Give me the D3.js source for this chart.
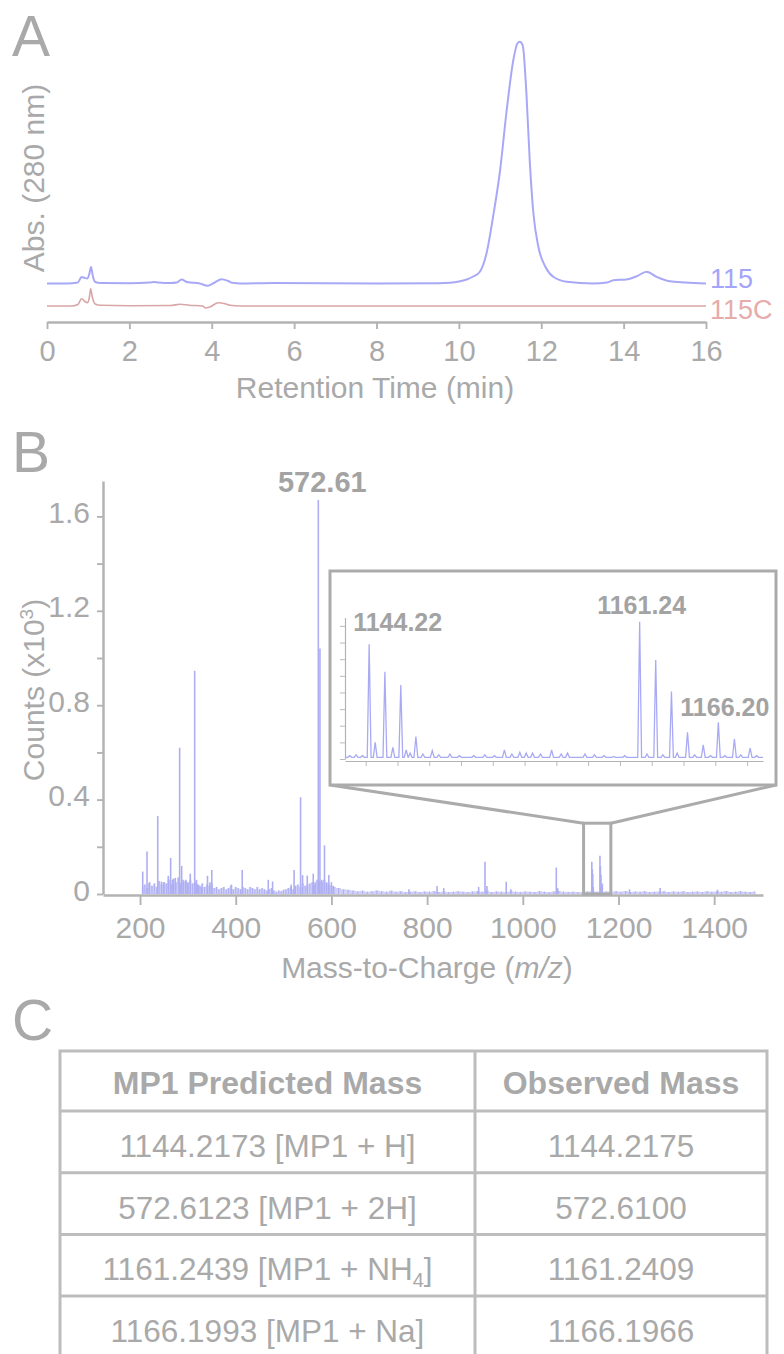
<!DOCTYPE html>
<html>
<head>
<meta charset="utf-8">
<script src="https://cdn.jsdelivr.net/npm/d3@7"></script>
<style>
  body { margin: 0; background: #fff; }
  text { font-family: "Liberation Sans", Arial, sans-serif; }
</style>
</head>
<body>
<div id="vis"></div>
<script>
const WIDTH = 784;
const HEIGHT = 1354;
const FONT = '"Liberation Sans", Arial, sans-serif';
const GREY = '#b3b3b3';
const TEXT = '#a9a9a9';
const BLUE = '#a8a9f6';
const RED = '#d8a6a6';

// ---- panel A: chromatograms, [time (min), abs (arb.)]
const trace115 = [
  [0, 0], [0.5, 0], [0.75, 1], [0.84, 6.6], [0.92, 5.5], [0.98, 5], [1.03, 10], [1.07, 16.6],
  [1.11, 8], [1.17, 1.5], [1.3, 0.5], [2.0, 0.3], [2.5, 1], [2.6, 1.5], [2.7, 1], [3.0, 0.5],
  [3.15, 1], [3.27, 4], [3.4, 1.5], [3.71, 0], [3.9, -2.3], [4.05, 0.5], [4.24, 4.3], [4.4, 2.5],
  [4.5, 0.7], [4.7, 0], [5.5, 0.5], [8, 0], [9.5, 0.3], [9.78, 0.8], [10.0, 2], [10.19, 4],
  [10.35, 7], [10.51, 11.7], [10.67, 30], [10.83, 66.7], [11.0, 113], [11.16, 173], [11.32, 223],
  [11.42, 240], [11.48, 241.7], [11.55, 238], [11.64, 190], [11.72, 123], [11.81, 70], [11.93, 36.7],
  [12.1, 16.7], [12.29, 6.7], [12.62, 1.7], [13.26, 0], [13.6, 1], [13.75, 3.3], [14.07, 4],
  [14.32, 7.3], [14.56, 11.7], [14.8, 6.7], [15.12, 2.3], [15.5, 1], [16, 0]
];
const trace115C = [
  [0, 0], [0.6, 0], [0.75, 1.5], [0.84, 7.3], [0.92, 4.5], [0.98, 3.3], [1.03, 9], [1.06, 17.3],
  [1.1, 9], [1.17, 2], [1.3, 0.7], [2.0, 0.3], [3.0, 0.5], [3.23, 1.7], [3.45, 0.8], [3.78, 0],
  [3.85, -2], [3.95, -1], [4.16, 3.3], [4.3, 2.5], [4.44, 0.7], [4.7, 0], [16, 0]
];
const timeTicks = [0, 2, 4, 6, 8, 10, 12, 14, 16];
const OFFSET_115 = 22.5;

// ---- panel B: mass spectrum, counts in x10^3
const peaks = [
  [205.6, 0.095], [214.6, 0.18], [219, 0.045], [237, 0.33], [245, 0.052], [250, 0.05], [259, 0.077],
  [264, 0.153], [268, 0.06], [273.7, 0.068], [282.8, 0.62], [287, 0.119], [291, 0.05], [296, 0.06],
  [300, 0.045], [305, 0.086], [314.2, 0.946], [318, 0.06], [322, 0.04], [328, 0.03], [341, 0.077],
  [346, 0.05], [350, 0.102], [391, 0.04], [413.6, 0.102], [468, 0.06], [477, 0.053], [516, 0.04],
  [522, 0.102], [535.5, 0.41], [539.7, 0.08], [549.5, 0.078], [562, 0.086], [566, 0.05],
  [572.61, 1.67], [576, 1.04], [580, 0.06], [585.5, 0.206], [590, 0.05], [594.6, 0.08], [600, 0.05],
  [604, 0.035], [762, 0.02], [820.8, 0.034], [834.7, 0.025], [907.7, 0.03], [921, 0.137],
  [925, 0.034], [965.3, 0.052], [975, 0.02], [1070, 0.112], [1073, 0.025], [1144.22, 0.137],
  [1145.21, 0.105], [1146.2, 0.085], [1147.2, 0.03], [1161.24, 0.162], [1162.25, 0.118],
  [1163.24, 0.08], [1164.24, 0.032], [1166.2, 0.044], [1223, 0.02], [1287, 0.025], [1407, 0.018]
];
// baseline noise, first bin 205 every 5 m/z, then from 605 every 10 m/z
const noiseLow = [
  .03, .04, .025, .05, .035, .045, .03, .055, .04, .05,
  .045, .06, .04, .065, .05, .07, .045, .06, .055, .05,
  .06, .045, .05, .04, .035, .045, .03, .04, .035, .045,
  .025, .03, .02, .025, .03, .02, .025, .035, .02, .03,
  .025, .02, .03, .025, .02, .03, .025, .02, .03, .02,
  .025, .02, .015, .02, .025, .015, .01, .015, .012, .018,
  .02, .025, .03, .02, .035, .04, .03, .045, .035, .04,
  .045, .05, .04, .06, .055, .05, .06, .045, .04, .035
];
const noiseHigh = [
  .03, .025, .02, .018, .015, .012, .014, .01, .012, .015,
  .012, .01, .014, .01, .012, .008, .01, .012, .009, .011,
  .01, .012, .009, .011, .008, .01, .012, .01, .009, .011,
  .012, .01, .014, .009, .011, .01, .008, .012, .01, .009,
  .011, .01, .009, .012, .01, .008, .011, .013, .01, .009,
  .01, .008, .009, .011, .012, .01, .009, .011, .01, .012,
  .01, .013, .009, .011, .01, .012, .009, .01, .011, .012,
  .009, .011, .01, .012, .008, .01, .011, .009, .012, .01,
  .011, .01, .013, .009, .01, .012, .01, .009, .011
];
const mzTicks = [200, 400, 600, 800, 1000, 1200, 1400];
const countTicks = [0, 0.2, 0.4, 0.6, 0.8, 1.0, 1.2, 1.4, 1.6];
const zoomRegion = {from: 1127, to: 1184, top: 0.3};

// inset profile around the molecular ion
const insetPeaks = [
  [1143.0, .004], [1143.4, .005], [1143.8, .004], [1144.22, .138], [1144.6, .02], [1145.21, .105],
  [1145.71, .014], [1146.21, .089], [1146.55, .011], [1146.8, .007], [1147.16, .027], [1147.6, .006],
  [1148.19, .010], [1148.6, .005], [1149.3, .006], [1149.9, .004], [1150.8, .004], [1151.5, .005],
  [1152.1, .004], [1152.73, .011], [1153.2, .006], [1153.7, .008], [1154.1, .007], [1154.5, .007],
  [1155.0, .006], [1155.7, .011], [1156.3, .006], [1156.7, .007], [1157.8, .006], [1158.4, .005],
  [1159.0, .004], [1159.6, .003], [1160.3, .004], [1161.24, .165], [1161.7, .006], [1162.25, .119],
  [1162.7, .005], [1163.24, .081], [1163.6, .007], [1164.25, .032], [1164.7, .005], [1165.24, .017],
  [1165.7, .004], [1166.19, .044], [1166.6, .004], [1167.2, .024], [1167.6, .005], [1168.19, .013],
  [1168.6, .004]
];
const insetXTicks = [1144, 1146, 1148, 1150, 1152, 1154, 1156, 1158, 1160, 1162, 1164, 1166, 1168];
const insetYTicks = [0, 0.02, 0.04, 0.06, 0.08, 0.1, 0.12, 0.14, 0.16];
const insetLabels = [['1144.22', 1144.22, .138], ['1161.24', 1161.24, .165], ['1166.20', 1166.19, .044]];

// ---- panel C: table
const tableHeader = ['MP1 Predicted Mass', 'Observed Mass'];
const predictedMass = ['1144.2173', '572.6123', '1161.2439', '1166.1993'];
const adducts = ['MP1 + H', 'MP1 + 2H', 'MP1 + NH4', 'MP1 + Na'];
const observedMass = ['1144.2175', '572.6100', '1161.2409', '1166.1966'];

const svg = d3.select('#vis').append('svg')
  .attr('width', WIDTH).attr('height', HEIGHT);

function panelLetter(t, y) {
  svg.append('text').attr('x', 12).attr('y', y).text(t)
    .attr('font-size', 57).attr('font-family', 'Roboto, ' + FONT)
    .attr('font-weight', 300).attr('fill', TEXT);
}

function styleAxis(g, w, fs) {
  g.attr('font-family', FONT).attr('font-size', fs).attr('color', GREY);
  g.select('.domain').attr('stroke-width', w);
  g.selectAll('.tick line').attr('stroke-width', w * 0.75);
  g.selectAll('.tick text').attr('fill', TEXT);
}

// ================= A =================
panelLetter('A', 56);
const X_A = d3.scaleLinear().domain([0, 16]).range([47, 706]);
const Y_A = d3.scaleLinear().domain([0, 270]).range([306, 36]);

const axA = svg.append('g').attr('transform', 'translate(0,322)')
  .call(d3.axisBottom(X_A).tickValues(timeTicks).tickSize(7).tickPadding(11).tickSizeOuter(0));
styleAxis(axA, 2.5, 29);

svg.append('path').datum(trace115C)
  .attr('d', d3.line().x(d => X_A(d[0])).y(d => Y_A(d[1])).curve(d3.curveMonotoneX))
  .attr('fill', 'none').attr('stroke', RED).attr('stroke-width', 1.6);
svg.append('path').datum(trace115)
  .attr('d', d3.line().x(d => X_A(d[0])).y(d => Y_A(d[1] + OFFSET_115)).curve(d3.curveMonotoneX))
  .attr('fill', 'none').attr('stroke', BLUE).attr('stroke-width', 2);

svg.append('text').attr('x', 710).attr('y', Y_A(OFFSET_115) + 4).text('115')
  .attr('font-size', 27).attr('fill', '#a4a4fa');
svg.append('text').attr('x', 710).attr('y', Y_A(0) + 13).text('115C')
  .attr('font-size', 27).attr('fill', '#e8abab');

svg.append('text').attr('x', 375).attr('y', 398).attr('text-anchor', 'middle')
  .attr('font-size', 30).attr('fill', TEXT).text('Retention Time (min)');
svg.append('text').attr('transform', 'translate(44,178) rotate(-90)').attr('text-anchor', 'middle')
  .attr('font-size', 30).attr('fill', TEXT).text('Abs. (280 nm)');

// ================= B =================
panelLetter('B', 472);
const X_B = d3.scaleLinear().domain([122.6, 1502]).range([103, 763]);
const Y_B = d3.scaleLinear().domain([0, 1.75]).range([894, 481]);

const noise = noiseLow.map((c, i) => [205 + i * 5, c])
  .concat(noiseHigh.map((c, i) => [605 + i * 10, c]));

svg.append('path').datum(noise)
  .attr('d', d3.area().x(d => X_B(d[0])).y0(Y_B(0)).y1(d => Y_B(d[1])).curve(d3.curveStep))
  .attr('fill', '#c4c4f6').attr('opacity', 0.8);
svg.selectAll('.noise').data(noise).enter().append('line')
  .attr('x1', d => X_B(d[0])).attr('x2', d => X_B(d[0]))
  .attr('y1', Y_B(0)).attr('y2', d => Y_B(d[1]))
  .attr('stroke', '#aeaef2').attr('stroke-width', 1);
svg.selectAll('.peak').data(peaks).enter().append('line')
  .attr('x1', d => X_B(d[0])).attr('x2', d => X_B(d[0]))
  .attr('y1', Y_B(0)).attr('y2', d => Y_B(d[1]))
  .attr('stroke', '#aeaef2').attr('stroke-width', 1.6);

const axBx = svg.append('g').attr('transform', 'translate(0,895)')
  .call(d3.axisBottom(X_B).tickValues(mzTicks).tickSize(10).tickPadding(12).tickSizeOuter(0)
    .tickFormat(d3.format('d')));
styleAxis(axBx, 2.5, 30);
const axBy = svg.append('g').attr('transform', 'translate(103,0)')
  .call(d3.axisLeft(Y_B).tickValues(countTicks).tickSize(6).tickPadding(7).tickSizeOuter(0)
    .tickFormat(d => (Math.round(d * 10) % 4 === 0) ? (d === 0 ? '0' : d.toFixed(1)) : ''));
styleAxis(axBy, 2.5, 30);
axBy.selectAll('.tick text').attr('dy', '0.2em');

svg.append('text').attr('x', X_B(572.61) + 4).attr('y', Y_B(1.67) - 8)
  .attr('text-anchor', 'middle').attr('font-size', 29).attr('font-weight', 'bold')
  .attr('fill', '#a3a3a3').text('572.61');

const xt = svg.append('text').attr('x', 427).attr('y', 978).attr('text-anchor', 'middle')
  .attr('font-size', 30).attr('fill', TEXT);
xt.append('tspan').text('Mass-to-Charge (');
xt.append('tspan').attr('font-style', 'italic').text('m/z');
xt.append('tspan').text(')');

const yt = svg.append('text').attr('transform', 'translate(44,690) rotate(-90)')
  .attr('text-anchor', 'middle').attr('font-size', 30).attr('fill', TEXT);
yt.append('tspan').text('Counts (x10');
yt.append('tspan').attr('font-size', 19).attr('dy', -11).text('3');
yt.append('tspan').attr('dy', 11).text(')');

// zoom box and connectors
const INSET = {x0: 330, x1: 776, y0: 571, y1: 785};
const zx0 = X_B(zoomRegion.from), zx1 = X_B(zoomRegion.to), zy = Y_B(zoomRegion.top);
svg.append('rect').attr('x', zx0).attr('y', zy).attr('width', zx1 - zx0).attr('height', Y_B(0) - zy)
  .attr('fill', 'none').attr('stroke', '#ababab').attr('stroke-width', 3);
svg.append('path')
  .attr('d', `M${INSET.x0},${INSET.y1}L${zx0},${zy}M${INSET.x1},${INSET.y1}L${zx1},${zy}`)
  .attr('fill', 'none').attr('stroke', '#ababab').attr('stroke-width', 3);
svg.append('rect').attr('x', INSET.x0).attr('y', INSET.y0)
  .attr('width', INSET.x1 - INSET.x0).attr('height', INSET.y1 - INSET.y0)
  .attr('fill', '#fff').attr('stroke', '#ababab').attr('stroke-width', 3);

// inset plot
const X_in = d3.scaleLinear().domain([1142.7, 1169]).range([345, 763]);
const Y_in = d3.scaleLinear().domain([0, 0.17]).range([759, 617.6]);
const HALF = 0.12;
const profile = [[1142.75, 0.002]];
insetPeaks.forEach(p => {
  profile.push([p[0] - HALF, 0.002], [p[0], p[1]], [p[0] + HALF, 0.002]);
});
profile.push([1169, 0.002]);

const axIx = svg.append('g').attr('transform', 'translate(0,761)')
  .call(d3.axisBottom(X_in).tickValues(insetXTicks).tickSize(5).tickFormat('').tickSizeOuter(0));
styleAxis(axIx, 1.2, 10);
const axIy = svg.append('g').attr('transform', 'translate(345,0)')
  .call(d3.axisLeft(Y_in).tickValues(insetYTicks).tickSize(5).tickFormat('').tickSizeOuter(0));
styleAxis(axIy, 1.2, 10);

svg.append('path').datum(profile)
  .attr('d', d3.line().x(d => X_in(d[0])).y(d => Y_in(d[1])))
  .attr('fill', 'none').attr('stroke', '#a9aaf4').attr('stroke-width', 1.3);

const labelPos = {'1144.22': [-16, -13, 'start'], '1161.24': [2, -8, 'middle'], '1166.20': [-38, -6, 'start']};
svg.selectAll('.ilabel').data(insetLabels).enter().append('text')
  .attr('x', d => X_in(d[1]) + labelPos[d[0]][0])
  .attr('y', d => Y_in(d[2]) + labelPos[d[0]][1])
  .attr('text-anchor', d => labelPos[d[0]][2])
  .attr('font-size', 25).attr('font-weight', 'bold').attr('fill', '#a3a3a3')
  .text(d => d[0]);

// ================= C =================
panelLetter('C', 1040);
const COLS = [60, 475, 767];
const HEAD_TOP = 1051, HEAD_H = 60, ROW_H = 61.7;
const rowTops = predictedMass.map((d, i) => HEAD_TOP + HEAD_H + i * ROW_H);
const tableBottom = HEAD_TOP + HEAD_H + predictedMass.length * ROW_H;
const tbl = svg.append('g').attr('stroke', '#bdbdbd').attr('stroke-width', 3);
tbl.append('rect').attr('x', COLS[0]).attr('y', HEAD_TOP)
  .attr('width', COLS[2] - COLS[0]).attr('height', tableBottom - HEAD_TOP).attr('fill', 'none');
tbl.append('line').attr('x1', COLS[1]).attr('x2', COLS[1]).attr('y1', HEAD_TOP).attr('y2', tableBottom);
tbl.selectAll('.rowline').data(rowTops).enter().append('line')
  .attr('x1', COLS[0]).attr('x2', COLS[2]).attr('y1', d => d).attr('y2', d => d);

const colMid = [(COLS[0] + COLS[1]) / 2, (COLS[1] + COLS[2]) / 2];
svg.selectAll('.head').data(tableHeader).enter().append('text')
  .attr('x', (d, i) => colMid[i]).attr('y', HEAD_TOP + 43)
  .attr('text-anchor', 'middle').attr('font-size', 32).attr('font-weight', 'bold')
  .attr('fill', TEXT).text(d => d);

predictedMass.forEach((m, i) => {
  const t = svg.append('text').attr('x', colMid[0]).attr('y', rowTops[i] + 46)
    .attr('text-anchor', 'middle').attr('font-size', 31.5).attr('fill', TEXT);
  const sub = adducts[i].match(/^(.*[A-Za-z])(\d)$/);
  if (sub) {
    t.append('tspan').text(m + ' [' + sub[1]);
    t.append('tspan').attr('font-size', 20).attr('dy', 7).text(sub[2]);
    t.append('tspan').attr('dy', -7).text(']');
  } else {
    t.text(m + ' [' + adducts[i] + ']');
  }
  svg.append('text').attr('x', colMid[1]).attr('y', rowTops[i] + 46)
    .attr('text-anchor', 'middle').attr('font-size', 31.5).attr('fill', TEXT).text(observedMass[i]);
});
</script>
</body>
</html>
